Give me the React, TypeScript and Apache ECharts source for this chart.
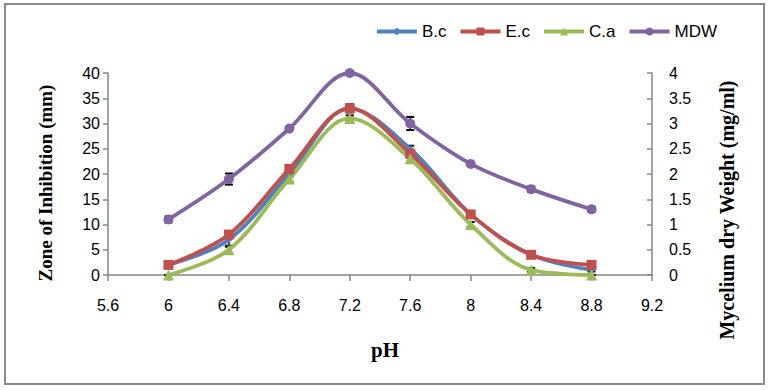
import React, { useEffect, useRef } from "react";
import * as echarts from "echarts";

const phValues = [6, 6.4, 6.8, 7.2, 7.6, 8, 8.4, 8.8];
const bcValues = [2, 7, 20, 33, 25, 12, 4, 1];
const ecValues = [2, 8, 21, 33, 24, 12, 4, 2];
const caValues = [0, 5, 19, 31, 23, 10, 1, 0];
const mdwValues = [1.1, 1.9, 2.9, 4.0, 3.0, 2.2, 1.7, 1.3];

const bcErr = [0.3, 1.2, 0.5, 0.5, 0.6, 0.4, 0.3, 0.3];
const ecErr = [0.3, 0.5, 0.5, 0.8, 0.5, 0.4, 0.3, 0.3];
const caErr = [0, 0.6, 0.5, 0.6, 0.6, 0.5, 0.4, 0];
const mdwErr = [0.06, 0.11, 0.03, 0.04, 0.13, 0.03, 0.05, 0.05];

const seriesNames = ["B.c", "E.c", "C.a", "MDW"];
const colors = ["#4F81BD", "#C0504D", "#9BBB59", "#8064A2"];

const pairs = (ys: number[]) => phValues.map((x, i) => [x, ys[i]]);
const errData = (ys: number[], es: number[]) =>
  phValues.map((x, i) => [x, ys[i] - es[i], ys[i] + es[i]]);

const errRender = (params: any, api: any) => {
  const x = api.value(0);
  const lo = api.value(1);
  const hi = api.value(2);
  const pHi = api.coord([x, hi]);
  const pLo = api.coord([x, lo]);
  const w = 4;
  const st = { stroke: "#000", lineWidth: 2 };
  return {
    type: "group",
    children: [
      { type: "line", shape: { x1: pHi[0], y1: pHi[1], x2: pLo[0], y2: pLo[1] }, style: { stroke: "#000", lineWidth: 1.5 } },
      { type: "line", shape: { x1: pHi[0] - w, y1: pHi[1], x2: pHi[0] + w, y2: pHi[1] }, style: st },
      { type: "line", shape: { x1: pLo[0] - w, y1: pLo[1], x2: pLo[0] + w, y2: pLo[1] }, style: st },
    ],
  };
};

const fmtX = (v: number) => {
  const s = v.toFixed(1);
  return s.endsWith(".0") ? s.slice(0, -2) : s;
};

export default function App() {
  const ref = useRef<HTMLDivElement>(null);
  useEffect(() => {
    if (!ref.current) return;
    const chart = echarts.init(ref.current, null, { renderer: "svg" });
    const axisColor = "#868686";
    const labelFont = { fontFamily: "Liberation Sans", fontSize: 16, color: "#000" };
    const lineSeries = (name: string, data: number[], color: string, symbol: string, size: number, yAxisIndex: number) => ({
      name,
      type: "line",
      data: pairs(data),
      yAxisIndex,
      smooth: 0.35,
      symbol,
      symbolSize: size,
      lineStyle: { color, width: 3.8 },
      itemStyle: { color },
      z: 3,
    });
    const errSeries = (ys: number[], es: number[], yAxisIndex: number) => ({
      type: "custom",
      yAxisIndex,
      data: errData(ys, es),
      encode: { x: 0, y: [1, 2] },
      renderItem: errRender,
      silent: true,
      z: 2,
    });
    chart.setOption({
      animation: false,
      color: colors,
      legend: {
        data: seriesNames,
        top: 18,
        right: 46,
        itemWidth: 40,
        itemHeight: 10,
        itemGap: 12,
        lineStyle: { width: 4 },
        textStyle: { fontFamily: "Liberation Sans", fontSize: 17, color: "#000" },
      },
      grid: { left: 108, right: 116, top: 73, bottom: 115 },
      xAxis: {
        type: "value",
        min: 5.6,
        max: 9.2,
        interval: 0.4,
        axisLine: { show: true, lineStyle: { color: axisColor, width: 1.5 } },
        axisTick: { show: true, length: 6, lineStyle: { color: axisColor, width: 1.5 } },
        splitLine: { show: false },
        axisLabel: { ...labelFont, margin: 22, formatter: fmtX },
      },
      yAxis: [
        {
          type: "value",
          min: 0,
          max: 40,
          interval: 5,
          axisLine: { show: true, lineStyle: { color: axisColor, width: 1.5 } },
          axisTick: { show: true, length: 5, lineStyle: { color: axisColor, width: 1.5 } },
          splitLine: { show: false },
          axisLabel: { ...labelFont, margin: 8 },
        },
        {
          type: "value",
          min: 0,
          max: 4,
          interval: 0.5,
          position: "right",
          axisLine: { show: true, lineStyle: { color: axisColor, width: 1.5 } },
          axisTick: { show: true, inside: true, length: 5, lineStyle: { color: axisColor, width: 1.5 } },
          splitLine: { show: false },
          axisLabel: { ...labelFont, margin: 17 },
        },
      ],
      series: [
        errSeries(bcValues, bcErr, 0),
        errSeries(ecValues, ecErr, 0),
        errSeries(caValues, caErr, 0),
        errSeries(mdwValues, mdwErr, 1),
        lineSeries("B.c", bcValues, colors[0], "diamond", 7, 0),
        lineSeries("E.c", ecValues, colors[1], "rect", 10, 0),
        lineSeries("C.a", caValues, colors[2], "triangle", 11, 0),
        lineSeries("MDW", mdwValues, colors[3], "circle", 10, 1),
      ],
      graphic: [
        {
          type: "rect",
          shape: { x: 5, y: 4, width: 759, height: 380 },
          style: { fill: "none", stroke: "#8a8a8a", lineWidth: 2 },
          silent: true,
        },
        {
          type: "text",
          x: 45,
          y: 183,
          rotation: Math.PI / 2,
          style: {
            text: "Zone of Inhibition (mm)",
            fontFamily: "Liberation Serif",
            fontWeight: "bold",
            fontSize: 19,
            fill: "#000",
            align: "center",
            verticalAlign: "middle",
          },
        },
        {
          type: "text",
          x: 727,
          y: 210,
          rotation: Math.PI / 2,
          style: {
            text: "Mycelium dry Weight (mg/ml)",
            fontFamily: "Liberation Serif",
            fontWeight: "bold",
            fontSize: 20,
            fill: "#000",
            align: "center",
            verticalAlign: "middle",
          },
        },
        {
          type: "text",
          x: 385,
          y: 350,
          style: {
            text: "pH",
            fontFamily: "Liberation Serif",
            fontWeight: "bold",
            fontSize: 21,
            fill: "#000",
            align: "center",
            verticalAlign: "middle",
          },
        },
      ],
    });
    return () => chart.dispose();
  }, []);
  return (
    <div
      ref={ref}
      style={{ position: "absolute", left: 0, top: 0, width: 768, height: 390, background: "#fff" }}
    />
  );
}
